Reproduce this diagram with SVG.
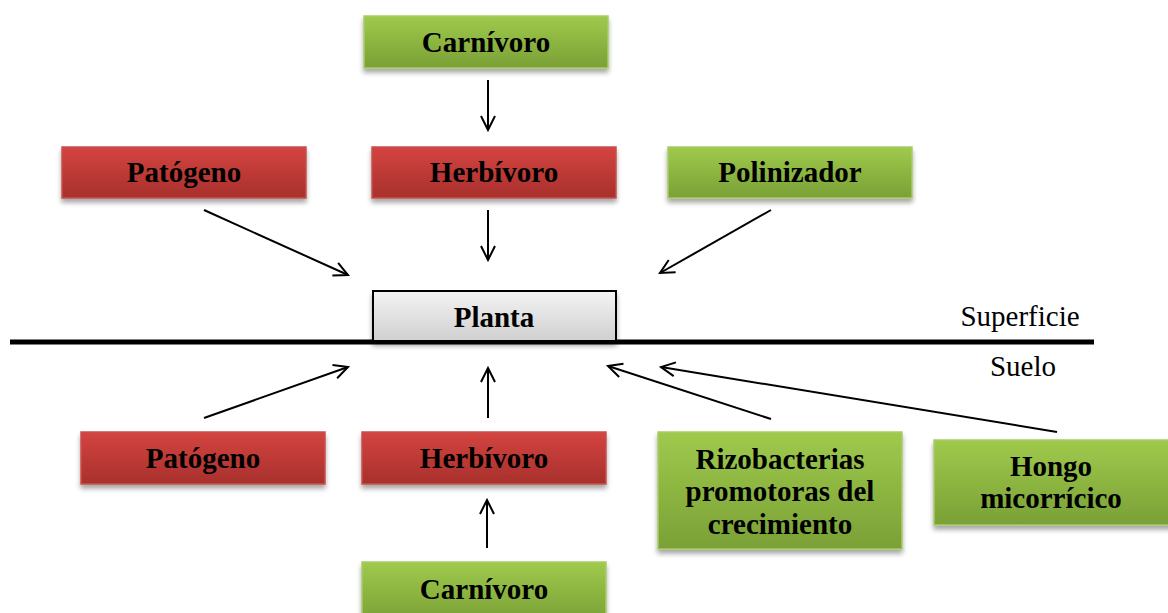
<svg xmlns="http://www.w3.org/2000/svg" width="1168" height="613" viewBox="0 0 1168 613">
<defs>
<linearGradient id="gRed" x1="0" y1="0" x2="0" y2="1">
<stop offset="0" stop-color="#d44440"/><stop offset="1" stop-color="#a8302c"/>
</linearGradient>
<linearGradient id="gGreen" x1="0" y1="0" x2="0" y2="1">
<stop offset="0" stop-color="#9fca4c"/><stop offset="1" stop-color="#7aa036"/>
</linearGradient>
<linearGradient id="gGray" x1="0" y1="0" x2="0" y2="1">
<stop offset="0" stop-color="#f4f4f4"/><stop offset="1" stop-color="#cfcfcf"/>
</linearGradient>
<filter id="sh" x="-10%" y="-20%" width="120%" height="150%">
<feGaussianBlur in="SourceAlpha" stdDeviation="2.5"/>
<feOffset dx="0" dy="4" result="b"/>
<feComponentTransfer><feFuncA type="linear" slope="0.35"/></feComponentTransfer>
<feMerge><feMergeNode/><feMergeNode in="SourceGraphic"/></feMerge>
</filter>
<marker id="ah" viewBox="0 0 20 20" refX="18" refY="10" markerWidth="20" markerHeight="20" markerUnits="userSpaceOnUse" orient="auto">
<path d="M4,3 L18,10 L4,17" fill="none" stroke="#000" stroke-width="2"/>
</marker>
</defs>
<style>
.red{fill:url(#gRed);stroke:#c8504c;stroke-width:1.5;filter:url(#sh)}
.green{fill:url(#gGreen);stroke:#a8cc6a;stroke-width:1.5;filter:url(#sh)}
.gray{fill:url(#gGray);stroke:#000;stroke-width:2;filter:url(#sh)}
.t{font-family:"Liberation Serif","Times New Roman",serif;font-weight:bold;font-size:29px;fill:#000;text-anchor:middle}
.n{font-family:"Liberation Serif","Times New Roman",serif;font-size:29px;fill:#000;text-anchor:middle}
.c{stroke:#000;stroke-width:2;fill:none;marker-end:url(#ah)}
</style>
<rect width="1168" height="613" fill="#fff"/>
<g id="ground">
<line x1="10" y1="342" x2="1094" y2="342" stroke="#000" stroke-width="5"/>
<text class="n" x="1020" y="326">Superficie</text>
<text class="n" x="1023" y="376">Suelo</text>
</g>
<g id="carnivoro-top"><rect class="green" x="364" y="16" width="244" height="52"/><text class="t" x="486" y="52">Carnívoro</text></g>
<g id="patogeno-top"><rect class="red" x="62" y="147" width="244" height="51"/><text class="t" x="184" y="182">Patógeno</text></g>
<g id="herbivoro-top"><rect class="red" x="372" y="147" width="244" height="51"/><text class="t" x="494" y="182">Herbívoro</text></g>
<g id="polinizador"><rect class="green" x="668" y="147" width="244" height="51"/><text class="t" x="790" y="182">Polinizador</text></g>
<g id="planta"><rect class="gray" x="373" y="291" width="243" height="50"/><text class="t" x="494" y="327">Planta</text></g>
<g id="patogeno-bottom"><rect class="red" x="81" y="432" width="244" height="52"/><text class="t" x="203" y="468">Patógeno</text></g>
<g id="herbivoro-bottom"><rect class="red" x="362" y="432" width="244" height="52"/><text class="t" x="484" y="468">Herbívoro</text></g>
<g id="rizobacterias"><rect class="green" x="658" y="432" width="244" height="117"/>
<text class="t" x="780" y="469">Rizobacterias</text><text class="t" x="780" y="501">promotoras del</text><text class="t" x="780" y="534">crecimiento</text></g>
<g id="hongo"><rect class="green" x="934" y="440" width="240" height="85"/>
<text class="t" x="1051" y="476">Hongo</text><text class="t" x="1051" y="508">micorrícico</text></g>
<g id="carnivoro-bottom"><rect class="green" x="362" y="562" width="244" height="60"/><text class="t" x="484" y="599">Carnívoro</text></g>
<g id="connectors">
<line class="c" x1="488" y1="80" x2="488" y2="130"/>
<line class="c" x1="488" y1="210" x2="488" y2="260"/>
<line class="c" x1="204" y1="210" x2="348" y2="275"/>
<line class="c" x1="771" y1="210" x2="660" y2="273"/>
<line class="c" x1="204" y1="418" x2="348" y2="367"/>
<line class="c" x1="488" y1="418" x2="488" y2="368"/>
<line class="c" x1="771" y1="419" x2="608" y2="366"/>
<line class="c" x1="1057" y1="432" x2="661" y2="367"/>
<line class="c" x1="487" y1="548" x2="487" y2="500"/>
</g>
</svg>
